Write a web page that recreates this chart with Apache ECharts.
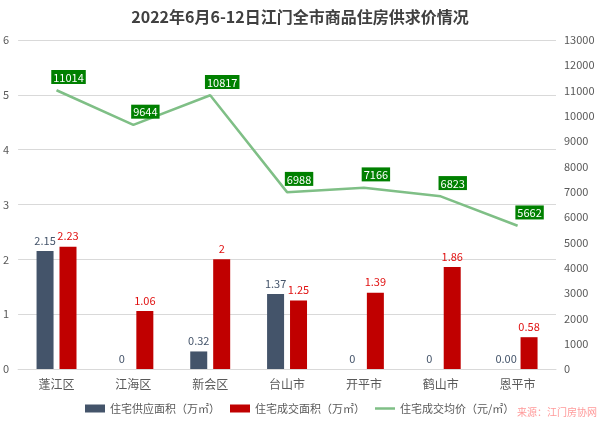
<!DOCTYPE html>
<html><head><meta charset="utf-8">
<script src="https://cdn.jsdelivr.net/npm/echarts@6/dist/echarts.min.js"></script>
<style>html,body{margin:0;padding:0;background:#fff}#c{width:600px;height:425px}</style>
</head><body><div id="c"></div>
<script>
const categories = ['蓬江区','江海区','新会区','台山市','开平市','鹤山市','恩平市'];
const supply = [2.15, 0, 0.32, 1.37, 0, 0, 0];
const supplyText = ['2.15','0','0.32','1.37','0','0','0.00'];
const deal = [2.23, 1.06, 2, 1.25, 1.39, 1.86, 0.58];
const price = [11014, 9644, 10817, 6988, 7166, 6823, 5662];
const leftTicks = {min: 0, max: 6, interval: 1};
const rightTicks = {min: 0, max: 13000, interval: 1000};

const font = 'Microsoft YaHei, "Noto Sans CJK SC", sans-serif';
const chart = echarts.init(document.getElementById('c'));
chart.setOption({
  animation: false,
  textStyle: {fontFamily: font},
  title: {text: '2022年6月6-12日江门全市商品住房供求价情况', left: 'center', top: 4,
    textStyle: {fontSize: 16, fontWeight: 'bold', color: '#404040', fontFamily: font}},
  graphic: [{type: 'text', right: 3, bottom: 8, style: {text: '来源：江门房协网', fill: '#ff9a9a', fontSize: 10, fontFamily: font}}],
  legend: {bottom: 6, left: 80, itemWidth: 20, itemHeight: 8, itemGap: 10,
    textStyle: {fontSize: 11, color: '#595959'},
    data: [{name: '住宅供应面积（万㎡）', icon: 'rect'}, {name: '住宅成交面积（万㎡）', icon: 'rect'},
      {name: '住宅成交均价（元/㎡）', icon: 'path://M0,0 L20,0 L20,2.5 L0,2.5 Z', itemStyle: {color: '#7fbf86', opacity: 1}}]},
  grid: {left: 18, right: 44, top: 40, bottom: 56, containLabel: false},
  xAxis: {type: 'category', data: categories,
    axisLine: {lineStyle: {color: '#d9d9d9'}}, axisTick: {show: false},
    axisLabel: {color: '#595959', fontSize: 12, margin: 9}},
  yAxis: [
    {type: 'value', min: leftTicks.min, max: leftTicks.max, interval: leftTicks.interval,
      axisLabel: {color: '#595959', fontSize: 11, margin: 9}, splitLine: {lineStyle: {color: '#d9d9d9'}}},
    {type: 'value', min: rightTicks.min, max: rightTicks.max, interval: rightTicks.interval,
      axisLabel: {color: '#595959', fontSize: 11, margin: 8, formatter: v => String(v)}, splitLine: {show: false}}
  ],
  series: [
    {name: '住宅供应面积（万㎡）', type: 'bar', data: supply, barWidth: 17, barGap: '35%',
      itemStyle: {color: '#44546a'},
      label: {show: true, position: 'top', color: '#44546a', fontSize: 11,
        formatter: p => supplyText[p.dataIndex]}},
    {name: '住宅成交面积（万㎡）', type: 'bar', data: deal, barWidth: 17,
      itemStyle: {color: '#c00000'},
      label: {show: true, position: 'top', color: '#e01010', fontSize: 11}},
    {name: '住宅成交均价（元/㎡）', type: 'line', yAxisIndex: 1, data: price,
      symbol: 'circle', symbolSize: 0.5, showSymbol: true,
      lineStyle: {color: '#7fbf86', width: 2.5}, itemStyle: {color: '#7fbf86'},
      label: {show: true, position: 'top', distance: 6, offset: [12, 0], backgroundColor: '#008000', color: '#fff',
        fontSize: 11, padding: [2, 2, 1, 2]}}
  ]
});
</script></body></html>
